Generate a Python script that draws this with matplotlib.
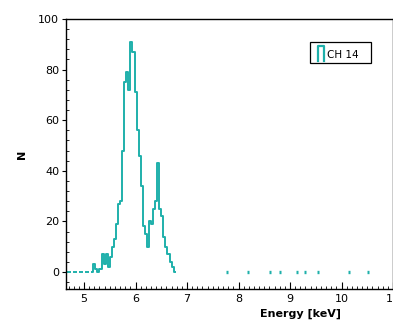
import numpy as np
import matplotlib
matplotlib.use("Agg")
import matplotlib.pyplot as plt
from matplotlib.patches import Rectangle

# histogram data (bin width 0.04 keV)
bin_start = 4.66
bin_width = 0.04
nan = np.nan
counts = [0, 0, nan, 0, 0, nan, 0, 0, nan, 0, 0, nan,
          0, 3, 1, 0, 1, 7, 3, 7, 2, 6, 10, 13, 19, 27, 28, 48,
          75, 79, 72, 91, 87, 71, 56, 46, 34, 18, 15, 10, 20, 19,
          25, 28, 43, 25, 22, 14, 10, 7, 4, 2, 0]
# isolated empty bins further right (keV)
lone_bins = [7.77, 8.18, 8.61, 8.80, 9.13, 9.30, 9.55, 10.15, 10.52]

col = '#1fb0ab'

fig = plt.figure(figsize=(3.93, 3.25), dpi=100)
ax = fig.add_axes([0.168, 0.111, 0.832, 0.8305])

# draw each run of filled bins separately so empty bins leave gaps
c = np.array(counts, dtype=float)
edges = bin_start + bin_width * np.arange(len(c) + 1)
i = 0
while i < len(c):
    if np.isnan(c[i]):
        i += 1
        continue
    j = i
    while j < len(c) and not np.isnan(c[j]):
        j += 1
    seg = c[i:j]
    ax.step(edges[i:j + 1], np.append(seg, seg[-1]), where='post', color=col,
            lw=1.4, solid_capstyle='butt')
    i = j

ax.hlines([0] * len(lone_bins), np.array(lone_bins) - bin_width / 2,
          np.array(lone_bins) + bin_width / 2, color=col, lw=2.4)

ax.set_xlim(4.65, 11)
ax.set_ylim(-6.7, 100)
ax.set_xticks([5, 6, 7, 8, 9, 10, 11])
ax.set_yticks([0, 20, 40, 60, 80, 100])
ax.xaxis.set_minor_locator(matplotlib.ticker.MultipleLocator(0.1))
ax.yaxis.set_minor_locator(matplotlib.ticker.MultipleLocator(4))
ax.tick_params(axis='x', which='major', direction='in', length=5, labelsize=8, pad=4)
ax.tick_params(axis='x', which='minor', direction='in', length=2.5)
ax.tick_params(axis='y', which='major', direction='out', length=3, labelsize=8, pad=2)
ax.tick_params(axis='y', which='minor', direction='in', length=2)
for s in ax.spines.values():
    s.set_linewidth(1.0)

ax.set_xlabel('Energy [keV]', fontsize=8, fontweight='bold')
ax.xaxis.set_label_coords(0.716, -0.072)
ax.set_ylabel('N', fontsize=8, fontweight='bold')
ax.yaxis.set_label_coords(-0.118, 0.5)

# legend box
ax.add_patch(Rectangle((0.746, 0.837), 0.187, 0.078, transform=ax.transAxes,
                       fill=False, ec='black', lw=0.9))
ax.plot([0.771, 0.771, 0.789, 0.789], [0.845, 0.900, 0.900, 0.845],
        transform=ax.transAxes, color=col, lw=1.6)
ax.text(0.798, 0.868, 'CH 14', transform=ax.transAxes, fontsize=7.5,
        va='center', ha='left')

fig.savefig('out.png', dpi=100)
